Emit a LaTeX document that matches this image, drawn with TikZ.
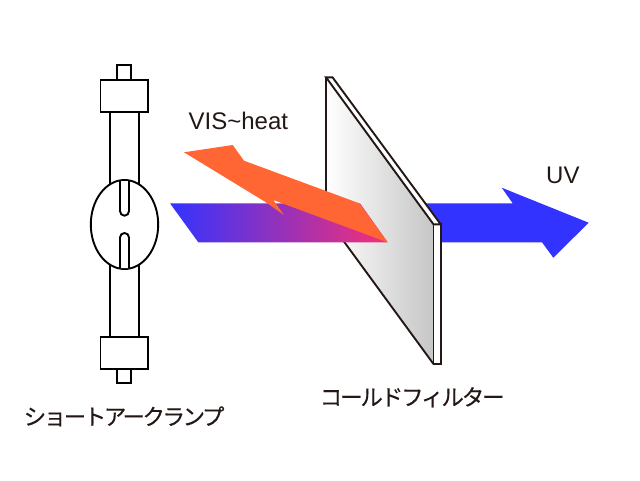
\documentclass[tikz,border=0pt]{standalone}
\usepackage{fontspec}
\setmainfont{Liberation Sans}
\newfontfamily\jpfont[FakeBold=0.25,LetterSpace=-9.5]{Noto Sans CJK JP}
\newfontfamily\jptight[FakeBold=0.25,LetterSpace=-11]{Noto Sans CJK JP}
\definecolor{inkd}{HTML}{231815}
\definecolor{uvblue}{HTML}{3333FF}
\definecolor{heatorange}{HTML}{FF6633}
\definecolor{mixpink}{HTML}{F53076}
\definecolor{filtergray}{HTML}{C6C6C6}
\tikzset{
  lampline/.style={draw=black,line width=1.9pt,fill=white},
  filterline/.style={draw=inkd,line width=1.9pt,line join=miter},
  lbl/.style={text=inkd,inner sep=0pt,anchor=base west,font=\fontsize{24}{24}\selectfont},
  jplbl/.style={text=inkd,inner sep=0pt,anchor=base west,font=\jpfont\fontsize{22.5}{22.5}\selectfont},
  jptightlbl/.style={text=inkd,inner sep=0pt,anchor=base west,font=\jptight\fontsize{22.5}{22.5}\selectfont},
}
\begin{document}
\begin{tikzpicture}[x=1pt,y=-1pt]
\useasboundingbox[fill=white] (0,0) rectangle (640,480);
% UV arrow
\fill[uvblue] (400,203.3) -- (512.7,203.3) -- (501.7,187.7) -- (588.7,222.7) -- (553.3,257.7) -- (542,242.3) -- (400,242.3) -- cycle;
% filter
\path[left color=white,right color=filtergray] (326,77.3) -- (433.5,224.3) -- (433.5,364) -- (326,217) -- cycle;
\draw[filterline,fill=white] (433.5,224.3) rectangle (440.7,364);
\draw[filterline,fill=white] (326,77.3) -- (332.5,77.3) -- (440.7,224.3) -- (433.5,224.3) -- cycle;
\draw[filterline] (326,217) -- (326,77.3);
\draw[filterline] (326,217) -- (433.5,364);
% gradient beam
\path[left color=uvblue,right color=mixpink] (170,203.3) -- (360,203.3) -- (387.7,242.3) -- (198.3,242.3) -- cycle;
% orange beam
\fill[heatorange] (184,152.3) -- (232.7,145) -- (244,160.7) -- (359.3,203.3) -- (387.7,242.3) -- (273.3,200) -- (284,215) -- (265,201.7) -- cycle;
% lamp
\draw[lampline] (110,100) rectangle (138.7,350);
\draw[lampline] (117.3,65) rectangle (131.3,80);
\draw[lampline] (100.5,80) rectangle (148.3,112);
\draw[lampline] (117.3,369) rectangle (131.3,383);
\draw[lampline] (100.5,336.7) rectangle (148.3,369);
\draw[lampline] (124.5,224.5) ellipse (33.7 and 44.5);
\draw[lampline,line join=round] (120,181) -- (120,211.2) arc[start angle=180,end angle=360,x radius=4.5,y radius=-4.5] -- (129,181);
\draw[lampline,line join=round] (120,268) -- (120,237.5) arc[start angle=180,end angle=0,x radius=4.5,y radius=-4.5] -- (129,268);
% labels
\node[lbl] (vis) at (188.5,129) {VIS\char`\~heat};
\node[lbl] (uv) at (546,183.3) {UV};
\node[jptightlbl] (lamp) at (23.5,425) {ショートアークランプ};
\node[jplbl] (cold) at (319.5,405.5) {コールドフィルター};
\end{tikzpicture}
\end{document}
